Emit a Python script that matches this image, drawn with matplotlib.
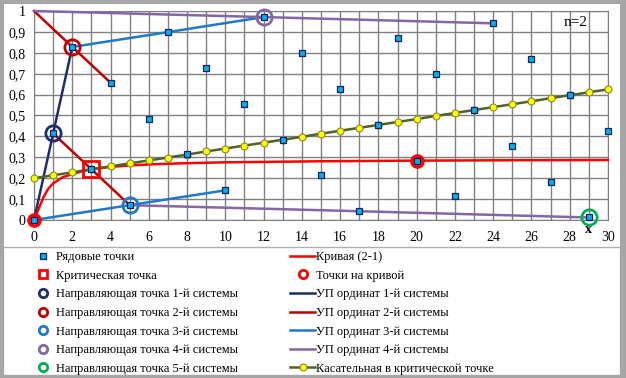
import matplotlib
matplotlib.use("Agg")
import matplotlib.pyplot as plt
from matplotlib.lines import Line2D
from matplotlib.patches import Rectangle
from matplotlib.ticker import FuncFormatter, MultipleLocator

plt.rcParams['font.family'] = ['Liberation Serif', 'DejaVu Serif']

# Рядовые точки: x = 0..30
row_x = list(range(31))
row_y = [0.000, 0.414, 0.828, 0.243, 0.657, 0.071, 0.485, 0.899, 0.314, 0.728,
         0.142, 0.556, 0.971, 0.385, 0.799, 0.213, 0.627, 0.042, 0.456, 0.870,
         0.284, 0.698, 0.113, 0.527, 0.941, 0.355, 0.770, 0.184, 0.598, 0.012,
         0.426]

# Кривая (2-1)
curve_x = [0, 0.25, 0.5, 0.75, 1, 1.5, 2, 2.5, 3, 4, 5, 6, 8, 10, 12, 15, 20, 25, 30]
curve_y = [0.0, 0.055, 0.11, 0.15, 0.175, 0.205, 0.219, 0.233, 0.243, 0.254,
           0.261, 0.266, 0.272, 0.276, 0.278, 0.281, 0.284, 0.286, 0.287]

# Касательная в критической точке
tan_x = list(range(31))
tan_y = [0.200, 0.214, 0.228, 0.243, 0.257, 0.271, 0.285, 0.299, 0.313, 0.328,
         0.342, 0.356, 0.370, 0.384, 0.398, 0.413, 0.427, 0.441, 0.455, 0.469,
         0.483, 0.498, 0.512, 0.526, 0.540, 0.554, 0.568, 0.583, 0.597, 0.611,
         0.625]

crit_x, crit_y = [3], [0.243]
oncurve_x, oncurve_y = [0, 20], [0.0, 0.284]

# Направляющие точки систем 1..5
guide_pts = [(1, 0.414), (2, 0.828), (5, 0.071), (12, 0.971), (29, 0.012)]

# УП ординат: отрезки каждой системы
sys1 = [([0, 1, 2], [0.0, 0.414, 0.828])]
sys2 = [([0, 2, 4], [1.0, 0.828, 0.657]), ([1, 3, 5], [0.414, 0.243, 0.071])]
sys3 = [([0, 5, 10], [0.0, 0.071, 0.142]), ([2, 7, 12], [0.828, 0.899, 0.971])]
sys4 = [([0, 12, 24], [1.0, 0.971, 0.941]), ([5, 17, 29], [0.071, 0.042, 0.012])]

c_navy = '#1f2d6b'
c_dred = '#c00000'
c_blue = '#1f78c8'
c_purp = '#8466a8'
c_green = '#00b050'
c_red = '#ff0000'
c_olive = '#4f6228'
sys_colors = [c_navy, c_dred, c_blue, c_purp, c_green]

fig = plt.figure(figsize=(6.26, 3.78), dpi=100)
ax = fig.add_axes([34 / 626, 1 - 220 / 378, 574 / 626, 209 / 378])
ax.set_xlim(0, 30)
ax.set_ylim(0, 1)

for systems, col in zip([sys1, sys2, sys3, sys4], sys_colors):
    for xs, ys in systems:
        ax.plot(xs, ys, color=col, lw=1.8, zorder=3, clip_on=False)

ax.plot(curve_x, curve_y, color=c_red, lw=1.8, zorder=3, clip_on=False)
ax.plot(tan_x, tan_y, color=c_olive, lw=1.8, marker='o', ms=5,
        mfc='#ffff00', mec='#8a8a20', mew=0.8, zorder=4, clip_on=False)

for (gx, gy), col in zip(guide_pts, sys_colors):
    ax.plot(gx, gy, 'o', ms=11, mfc='none', mec=col, mew=2, zorder=5, clip_on=False)
ax.plot(oncurve_x, oncurve_y, 'o', ms=8, mfc='none', mec=c_red, mew=2.5,
        zorder=5, clip_on=False)
ax.plot(crit_x, crit_y, 's', ms=11, mfc='none', mec=c_red, mew=2, zorder=5,
        clip_on=False)
ax.plot(row_x, row_y, 's', ms=5, mfc='#00b0f0', mec='#10205a', mew=0.9,
        zorder=6, clip_on=False)

ax.text(28.3, 0.947, 'n=2', ha='center', va='center', fontsize=11)
ax.text(29, -0.045, 'x', ha='center', va='center', fontsize=10,
        fontweight='bold')

ax.xaxis.set_major_locator(MultipleLocator(2))
ax.xaxis.set_minor_locator(MultipleLocator(1))
ax.yaxis.set_major_locator(MultipleLocator(0.1))
ax.yaxis.set_major_formatter(FuncFormatter(lambda v, p: ('%g' % round(v, 1)).replace('.', ',')))
ax.grid(True, which='both', color='#808080', lw=1)
ax.set_axisbelow(True)
ax.tick_params(which='both', length=0, labelsize=10, pad=6)
ax.tick_params(axis='x', pad=8)
for sp in ax.spines.values():
    sp.set_color('#808080')

# legend
h1 = [
    Line2D([], [], ls='none', marker='s', ms=5, mfc='#00b0f0', mec='#10205a', mew=0.9),
    Line2D([], [], ls='none', marker='s', ms=6, mfc='none', mec=c_red, mew=2),
] + [Line2D([], [], ls='none', marker='o', ms=6, mfc='none', mec=c, mew=2)
     for c in sys_colors]
l1 = ['Рядовые точки', 'Критическая точка'] + \
     ['Направляющая точка %d-й системы' % i for i in range(1, 6)]
h2 = [
    Line2D([], [], color=c_red, lw=1.8),
    Line2D([], [], ls='none', marker='o', ms=6, mfc='none', mec=c_red, mew=2),
] + [Line2D([], [], color=c, lw=1.8) for c in sys_colors[:4]] + [
    Line2D([], [], color=c_olive, lw=1.8, marker='o', ms=5, mfc='#ffff00',
           mec='#8a8a20', mew=0.8)]
l2 = ['Кривая (2-1)', 'Точки на кривой'] + \
     ['УП ординат %d-й системы' % i for i in range(1, 5)] + \
     ['Касательная в критической точке']

kw = dict(frameon=False, fontsize=9, handlelength=2.0, handletextpad=0.1,
          labelspacing=0.53, borderpad=0, borderaxespad=0, loc='upper left')
fig.legend(h1, l1, bbox_to_anchor=(30 / 626, 1 - 251 / 378), **kw)
fig.legend(h2, l2, bbox_to_anchor=(290 / 626, 1 - 251 / 378), **kw)

fig.patches.append(Rectangle((3 / 626, 3 / 378), 617 / 626, (375 - 247) / 378,
                             transform=fig.transFigure, fill=False,
                             ec='#b0b0b0', lw=1))
fig.patches.append(Rectangle((0, 0), 1, 1, transform=fig.transFigure,
                             fill=False, ec='#a6a6a6', lw=5))
fig.patches.append(Rectangle((620 / 626, 0), 6 / 626, 1, transform=fig.transFigure,
                             fc='#a6a6a6', ec='none'))

fig.savefig('out.png', dpi=100)
